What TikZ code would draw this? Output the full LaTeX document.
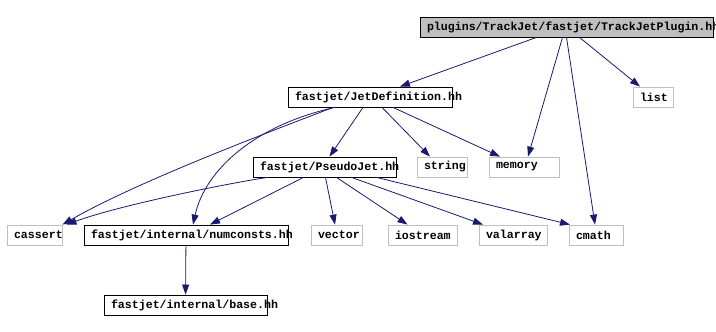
\documentclass[tikz,border=0pt]{standalone}
\usepackage{fontspec}
\setmonofont{Liberation Mono}
\usepackage{xcolor}
\usetikzlibrary{arrows.meta}

\definecolor{edgeblue}{RGB}{25,25,112}
\definecolor{boxgray}{RGB}{191,191,191}
\newcommand{\hdrfont}{\fontsize{11.6}{14}\selectfont\ttfamily\bfseries\hyphenchar\font=-1}

\begin{document}
\begin{tikzpicture}[x=1pt, y=-1pt,
    file/.style={rectangle, draw=black, line width=0.8pt, minimum height=20pt, inner xsep=7pt, inner ysep=0pt, align=left, font=\hdrfont},
    sys/.style={file, draw=boxgray},
    top/.style={file, fill=boxgray},
    ar/.style={-{Triangle[length=10pt, width=7pt]}, draw=edgeblue, line width=0.8pt}]

\useasboundingbox (0,0) rectangle (716,332);

% Files
\node[top, text width=279pt] (plugin) at (566.5,27) {plugins/TrackJet/fastjet/TrackJetPlugin.hh};
\node[sys, text width=26pt] (list) at (653,97) {list};
\node[file, text width=150pt] (jetdef) at (370,97) {fastjet/JetDefinition.hh};
\node[file, text width=129pt] (pseudo) at (324.5,167) {fastjet/PseudoJet.hh};
\node[sys, text width=36pt] (string) at (442,167) {string};
\node[sys, text width=56pt] (memory) at (524,167) {memory};
\node[sys, text width=41pt] (cassert) at (34.5,235) {cassert};
\node[file, text width=190pt] (numconsts) at (186,235) {fastjet/internal/numconsts.hh};
\node[sys, text width=37pt] (vector) at (336.5,235) {vector};
\node[sys, text width=55pt] (iostream) at (422.5,235) {iostream};
\node[sys, text width=54pt] (valarray) at (513,235) {valarray};
\node[sys, text width=40pt] (cmath) at (596,235) {cmath};
\node[file, text width=149pt] (base) at (185.5,305) {fastjet/internal/base.hh};

% Includes of the plugin
\draw[ar] ([xshift=-30]plugin.south) -- ([xshift=30]jetdef.north);
\draw[ar] ([xshift=-4]plugin.south) -- ([xshift=4]memory.north);
\draw[ar] (plugin.south) -- ([xshift=-1]cmath.north);
\draw[ar] ([xshift=13]plugin.south) -- ([xshift=-13]list.north);

% Includes of JetDefinition.hh
\draw[ar] ([xshift=-37]jetdef.south) .. controls (280,128) and (140,180) .. ([xshift=28]cassert.north);
\draw[ar] ([xshift=-35]jetdef.south) .. controls (255,125) and (205,170) .. ([xshift=7]numconsts.north);
\draw[ar] ([xshift=-7]jetdef.south) -- ([xshift=5]pseudo.north);
\draw[ar] ([xshift=12]jetdef.south) -- ([xshift=-12]string.north);
\draw[ar] ([xshift=23]jetdef.south) -- ([xshift=-24]memory.north);

% Includes of PseudoJet.hh
\draw[ar] ([xshift=-57]pseudo.south) .. controls (230,183) and (120,205) .. ([xshift=32]cassert.north);
\draw[ar] ([xshift=-21]pseudo.south) -- ([xshift=24]numconsts.north);
\draw[ar] ([xshift=1]pseudo.south) -- ([xshift=-1.5]vector.north);
\draw[ar] ([xshift=12]pseudo.south) -- ([xshift=-15]iostream.north);
\draw[ar] ([xshift=27]pseudo.south) -- ([xshift=-30]valarray.north);
\draw[ar] ([xshift=52]pseudo.south) -- ([xshift=-26]cmath.north);

% Includes of numconsts.hh
\draw[ar] (numconsts) -- (base);

\end{tikzpicture}
\end{document}
